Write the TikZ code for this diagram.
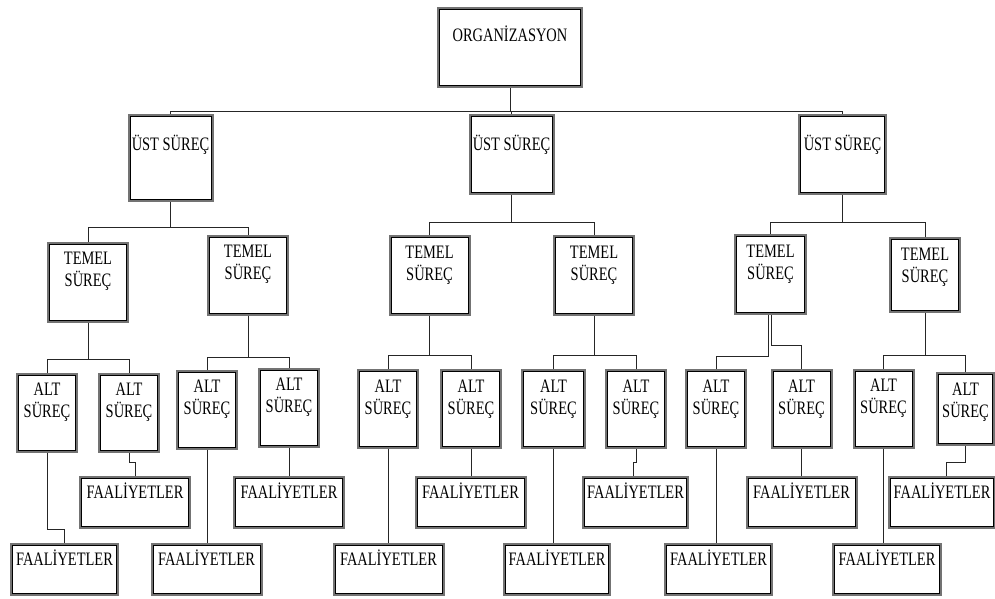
\documentclass[tikz,border=0pt]{standalone}
\usepackage{fontspec}
\setmainfont{Liberation Serif}[FakeStretch=0.76]

\begin{document}
\begin{tikzpicture}[x=1pt, y=-1pt,
    box/.style={draw=black!55, line width=2pt, inner sep=0pt, align=center,
      font=\fontsize{19}{22}\selectfont},
    orgbox/.style={box, minimum width=144pt, text height=33pt, text depth=46pt},
    ustbox/.style={box, minimum width=84pt, text height=35pt, text depth=44pt},
    temelbox/.style={box, minimum width=80pt, text height=44pt, text depth=35pt},
    altbox/.style={box, minimum width=60pt, text height=44pt, text depth=34pt},
    faalbox/.style={box, minimum width=110pt, text height=21pt, text depth=30pt},
    link/.style={draw=black!85, line width=1pt}]
    \useasboundingbox (0,0) rectangle (995,598);

    \node [orgbox] (org) at (510, 47.5) {ORGAN\.{I}ZASYON};

    \node [ustbox, text depth=51pt] (u1) at (170.5, 158) {ÜST SÜREÇ};
    \node [ustbox] (u2) at (511.5, 154.5) {ÜST SÜREÇ};
    \node [ustbox, minimum width=87pt] (u3) at (842.5, 154.5) {ÜST SÜREÇ};

    \node [temelbox] (t1) at (88, 282) {TEMEL\\SÜREÇ};
    \node [temelbox] (t2) at (248, 275) {TEMEL\\SÜREÇ};
    \node [temelbox] (t3) at (429.5, 275.5) {TEMEL\\SÜREÇ};
    \node [temelbox] (t4) at (594, 275.5) {TEMEL\\SÜREÇ};
    \node [temelbox, minimum width=71pt] (t5) at (770.5, 274.5) {TEMEL\\SÜREÇ};
    \node [temelbox, minimum width=70pt, text depth=30pt] (t6) at (925, 275) {TEMEL\\SÜREÇ};

    \node [altbox] (a1) at (47, 412.5) {ALT\\SÜREÇ};
    \node [altbox] (a2) at (129, 412.5) {ALT\\SÜREÇ};
    \node [altbox] (a3) at (207, 409.5) {ALT\\SÜREÇ};
    \node [altbox] (a4) at (289, 407.5) {ALT\\SÜREÇ};
    \node [altbox] (a5) at (388, 409) {ALT\\SÜREÇ};
    \node [altbox] (a6) at (471, 409) {ALT\\SÜREÇ};
    \node [altbox, minimum width=63pt] (a7) at (553.5, 409) {ALT\\SÜREÇ};
    \node [altbox] (a8) at (636, 409) {ALT\\SÜREÇ};
    \node [altbox] (a9) at (716, 409) {ALT\\SÜREÇ};
    \node [altbox] (a10) at (801.5, 409) {ALT\\SÜREÇ};
    \node [altbox] (a11) at (883.5, 408.5) {ALT\\SÜREÇ};
    \node [altbox, minimum width=57pt, text depth=28pt] (a12) at (965.5, 409) {ALT\\SÜREÇ};

    \node [faalbox] (f1) at (135, 502.5) {FAAL\.{I}YETLER};
    \node [faalbox] (f2) at (289, 502.5) {FAAL\.{I}YETLER};
    \node [faalbox] (f3) at (470.5, 502.5) {FAAL\.{I}YETLER};
    \node [faalbox, minimum width=105pt] (f4) at (635.5, 502.5) {FAAL\.{I}YETLER};
    \node [faalbox] (f5) at (801.5, 502.5) {FAAL\.{I}YETLER};
    \node [faalbox, minimum width=106pt] (f6) at (942, 502.5) {FAAL\.{I}YETLER};

    \node [faalbox, minimum width=107pt] (g1) at (64.5, 569.5) {FAAL\.{I}YETLER};
    \node [faalbox] (g2) at (206.5, 569.5) {FAAL\.{I}YETLER};
    \node [faalbox] (g3) at (388.5, 569.5) {FAAL\.{I}YETLER};
    \node [faalbox, minimum width=106pt] (g4) at (557, 569.5) {FAAL\.{I}YETLER};
    \node [faalbox, minimum width=107pt] (g5) at (718.5, 569.5) {FAAL\.{I}YETLER};
    \node [faalbox, minimum width=108pt] (g6) at (887, 569.5) {FAAL\.{I}YETLER};

    % inner frame of every box
    \foreach \n in {org,u1,u2,u3,t1,t2,t3,t4,t5,t6,a1,a2,a3,a4,a5,a6,a7,a8,a9,a10,a11,a12,
                    f1,f2,f3,f4,f5,f6,g1,g2,g3,g4,g5,g6}
      \draw [black, line width=.6pt] ([shift={(2.5,2.5)}]\n.north west) rectangle ([shift={(-2.5,-2.5)}]\n.south east);

    % branch points
    \coordinate (jo) at (510, 111);
    \coordinate (ju1) at (170.5, 227);
    \coordinate (ju2) at (511.5, 222);
    \coordinate (ju3) at (842.5, 222);
    \coordinate (jt1) at (88, 359);
    \coordinate (jt2) at (248, 357);
    \coordinate (jt3) at (429.5, 355);
    \coordinate (jt4) at (594, 355);
    \coordinate (jt6) at (925, 355);

    \draw [link] (org) -- (jo) -| (u1);
    \draw [link] (jo) -| (u2);
    \draw [link] (jo) -| (u3);

    \draw [link] (u1) -- (ju1) -| (t1);
    \draw [link] (ju1) -| (t2);
    \draw [link] (u2) -- (ju2) -| (t3);
    \draw [link] (ju2) -| (t4);
    \draw [link] (u3) -- (ju3) -| (t5);
    \draw [link] (ju3) -| (t6);

    \draw [link] (t1) -- (jt1) -| (a1);
    \draw [link] (jt1) -| (a2);
    \draw [link] (t2) -- (jt2) -| (a3);
    \draw [link] (jt2) -| (a4);
    \draw [link] (t3) -- (jt3) -| (a5);
    \draw [link] (jt3) -| (a6);
    \draw [link] (t4) -- (jt4) -| (a7);
    \draw [link] (jt4) -| (a8);
    \draw [link] ([xshift=-2pt]t5.south) -- ++(0, 41.5) -| (a9);
    \draw [link] ([xshift=1pt]t5.south) -- ++(0, 30.5) -| (a10);
    \draw [link] (t6) -- (jt6) -| (a11);
    \draw [link] (jt6) -| (a12);

    \draw [link] (a1.south) -- ++(0, 77) -| (g1);
    \draw [link] (a2.south) -- ++(0, 10) -| (f1);
    \draw [link] (a3) -- (a3 |- g2.north);
    \draw [link] (a4) -- (f2);
    \draw [link] (a5) -- (a5 |- g3.north);
    \draw [link] (a6) -- (a6 |- f3.north);
    \draw [link] (a7) -- (a7 |- g4.north);
    \draw [link] (a8.south) -- ++(0, 13) -| ([xshift=-2.5pt]f4.north);
    \draw [link] (a9) -- (a9 |- g5.north);
    \draw [link] (a10) -- (f5);
    \draw [link] (a11) -- (a11 |- g6.north);
    \draw [link] (a12.south) -- ++(0, 16) -| ([xshift=4pt]f6.north);
  \end{tikzpicture}
\end{document}
